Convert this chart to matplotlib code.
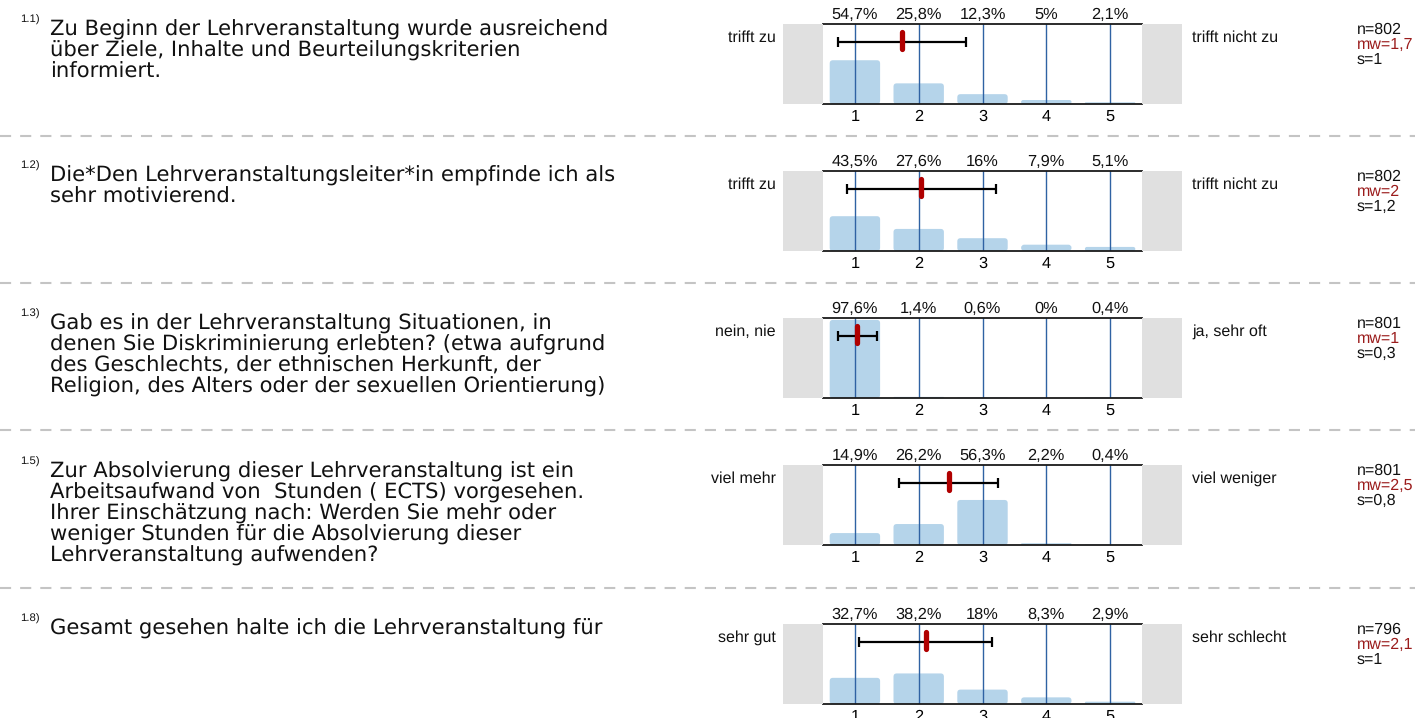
import matplotlib
matplotlib.use("Agg")
import matplotlib.pyplot as plt
from matplotlib.patches import FancyBboxPatch, Rectangle
from matplotlib.lines import Line2D

plt.rcParams['font.family'] = ['Liberation Sans', 'DejaVu Sans']
plt.rcParams['lines.scale_dashes'] = False
plt.rcParams['text.hinting'] = 'no_hinting'

# ---------------- data ----------------
item_ids = ["1.1)", "1.2)", "1.3)", "1.5)", "1.8)"]
questions = [
    ["Zu Beginn der Lehrveranstaltung wurde ausreichend",
     "über Ziele, Inhalte und Beurteilungskriterien",
     "informiert."],
    ["Die*Den Lehrveranstaltungsleiter*in empfinde ich als",
     "sehr motivierend."],
    ["Gab es in der Lehrveranstaltung Situationen, in",
     "denen Sie Diskriminierung erlebten? (etwa aufgrund",
     "des Geschlechts, der ethnischen Herkunft, der",
     "Religion, des Alters oder der sexuellen Orientierung)"],
    ["Zur Absolvierung dieser Lehrveranstaltung ist ein",
     "Arbeitsaufwand von  Stunden ( ECTS) vorgesehen.",
     "Ihrer Einschätzung nach: Werden Sie mehr oder",
     "weniger Stunden für die Absolvierung dieser",
     "Lehrveranstaltung aufwenden?"],
    ["Gesamt gesehen halte ich die Lehrveranstaltung für"],
]
left_labels = ["trifft zu", "trifft zu", "nein, nie", "viel mehr", "sehr gut"]
right_labels = ["trifft nicht zu", "trifft nicht zu", "ja, sehr oft",
                "viel weniger", "sehr schlecht"]
scale_points = [1, 2, 3, 4, 5]
pct_1_1 = [54.7, 25.8, 12.3, 5, 2.1]
pct_1_2 = [43.5, 27.6, 16, 7.9, 5.1]
pct_1_3 = [97.6, 1.4, 0.6, 0, 0.4]
pct_1_5 = [14.9, 26.2, 56.3, 2.2, 0.4]
pct_1_8 = [32.7, 38.2, 18, 8.3, 2.9]
percentages = [pct_1_1, pct_1_2, pct_1_3, pct_1_5, pct_1_8]
n_values = [802, 802, 801, 801, 796]
mean_values = [1.74, 2.04, 1.04, 2.47, 2.11]
sd_values = [1.0, 1.17, 0.31, 0.78, 1.04]

# ---------------- layout (pixels) ----------------
W, H = 1415, 718
fig = plt.figure(figsize=(W / 100, H / 100), dpi=100)

def fx(px):
    return px / W

def fy(py):
    return 1 - py / H

def fmt(v):
    return f"{round(v, 1):g}".replace(".", ",")

panel_tops = [24, 171, 318, 465, 624]
panel_h = 80
ax_left, ax_right = 823, 1142
gray_w = 40
text_base = [36, 182, 330, 478, 635]
line_pitch = 21.0
separators = [136, 283, 430, 588]

bar_color = "#b5d4ea"
vline_color = "#2f62a3"
gray_color = "#e0e0e0"
red = "#b00000"
dark_red = "#9b1c1c"

q_family = ['DejaVu Sans']
q_size = 15.2
lab_size = 11.5
stat_size = 11.5
pct_size = 11.8
PX = 0.72  # points per pixel at 100 dpi

for i in range(5):
    top = panel_tops[i]
    # gray side boxes
    for gx in (ax_left - gray_w, ax_right):
        fig.patches.append(Rectangle((fx(gx), fy(top + panel_h)), fx(gray_w),
                                     panel_h / H, transform=fig.transFigure,
                                     facecolor=gray_color, edgecolor="none",
                                     zorder=0))
    ax = fig.add_axes([fx(ax_left), fy(top + panel_h), fx(ax_right - ax_left),
                       panel_h / H])
    ax.set_xlim(0.5, 5.5)
    ax.set_ylim(0, 100)
    for s in ("left", "right"):
        ax.spines[s].set_visible(False)
    for s in ("top", "bottom"):
        ax.spines[s].set_linewidth(1.3)
        ax.spines[s].set_color("#1a1a1a")
    ax.set_yticks([])
    ax.set_xticks(scale_points)
    ax.set_xticklabels([str(p) for p in scale_points], fontsize=pct_size)
    ax.tick_params(axis="x", length=0, pad=3.6)

    # bars with rounded corners
    bars = ax.bar(scale_points, percentages[i], width=0.79, color=bar_color,
                  zorder=1)
    aspect = (100 / panel_h) / (5.0 / (ax_right - ax_left))
    for b in bars:
        x0, y0 = b.get_x(), b.get_y()
        w, h = b.get_width(), b.get_height()
        b.remove()
        if h <= 0:
            continue
        rs = min(0.05, h / aspect / 2)
        ax.add_patch(FancyBboxPatch((x0, y0), w, h,
                                    boxstyle=f"round,pad=0,rounding_size={rs}",
                                    mutation_aspect=aspect,
                                    facecolor=bar_color, edgecolor="none",
                                    zorder=1))
    for p in scale_points:
        ax.axvline(p, color=vline_color, lw=1.0, zorder=2)

    # error bar and mean
    ax.errorbar([mean_values[i]], [78], xerr=[sd_values[i]], color="black",
                lw=1.6, capsize=3.6, capthick=1.6, fmt="none", zorder=3)
    ax.plot([mean_values[i], mean_values[i]], [68.5, 90.5], color=red,
            lw=3.8, solid_capstyle="round", zorder=4)

    # percentages above
    for p, v in zip(scale_points, percentages[i]):
        ax.annotate(fmt(v) + "%", (p, 1), xycoords=("data", "axes fraction"),
                    xytext=(0, 5 * PX), textcoords="offset points",
                    ha="center", va="baseline", fontsize=pct_size,
                    color="#111111")

    # side labels
    fig.text(fx(776), fy(top + 17.5), left_labels[i], ha="right",
             va="baseline", fontsize=lab_size, color="#111111")
    fig.text(fx(1192), fy(top + 17.5), right_labels[i], ha="left",
             va="baseline", fontsize=lab_size, color="#111111")

    # statistics block
    fig.text(fx(1357), fy(top + 9.5), f"n={n_values[i]}", ha="left",
             va="baseline", fontsize=stat_size, color="#111111")
    fig.text(fx(1357), fy(top + 24.8), "mw=" + fmt(mean_values[i]), ha="left",
             va="baseline", fontsize=stat_size, color=dark_red)
    fig.text(fx(1357), fy(top + 40.3), "s=" + fmt(sd_values[i]), ha="left",
             va="baseline", fontsize=stat_size, color="#111111")

    # question text
    fig.text(fx(40), fy(text_base[i] - 16), item_ids[i], ha="right",
             va="center", fontsize=8.2, color="#111111")
    for k, line in enumerate(questions[i]):
        fig.text(fx(50), fy(text_base[i] + k * line_pitch), line, ha="left",
                 va="baseline", fontsize=q_size, family=q_family,
                 color="#111111")

for sy in separators:
    fig.lines.append(Line2D([0, 1], [fy(sy), fy(sy)], transform=fig.transFigure,
                            color="#c4c4c4", lw=1.5, linestyle=(0, (8, 6.5))))

fig.savefig("out.png", dpi=100)
